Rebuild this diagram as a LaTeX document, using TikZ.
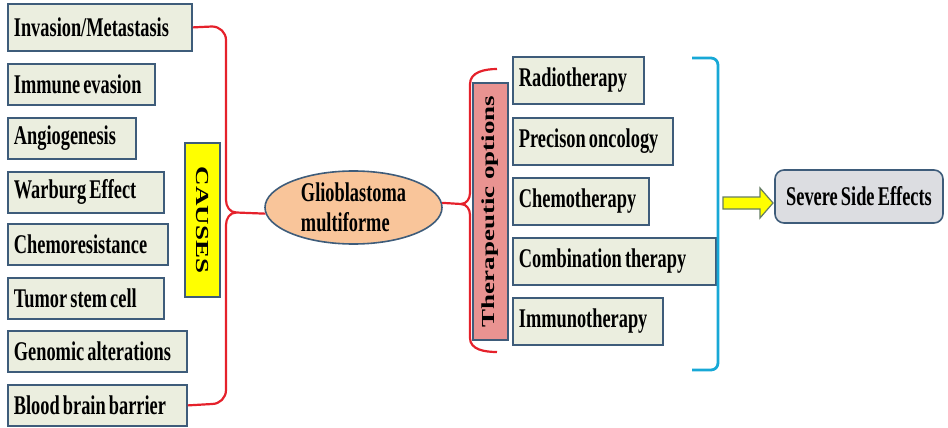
\documentclass[tikz,border=0pt]{standalone}
\usepackage{fontspec}
\usepackage{graphicx}
\setmainfont{Liberation Serif}[FakeStretch=0.68, WordSpace=0.68]
\newfontfamily\rotfont{Liberation Serif}
\usetikzlibrary{shapes.geometric}
\definecolor{boxc}{HTML}{EBEEDF}
\definecolor{bordc}{HTML}{3E5C7A}
\definecolor{redbrc}{HTML}{E5212B}
\definecolor{cyanbrc}{HTML}{17A8D6}
\definecolor{yelc}{HTML}{FFFF00}
\definecolor{pinkc}{HTML}{E99391}
\definecolor{peachc}{HTML}{F9C59A}
\definecolor{greyc}{HTML}{DCDDE1}
\newcommand{\lbox}[2]{\makebox[#1][l]{#2}}
\tikzset{
  txt/.style={font=\bfseries\fontsize{27}{30}\selectfont},
  cbox/.style={txt, draw=bordc, fill=boxc, line width=1.8pt, anchor=north west,
    inner xsep=6pt, inner ysep=0pt, minimum height=41pt},
  tbox/.style={cbox, minimum height=47pt},
  rotbox/.style={draw=bordc, line width=1.6pt, inner sep=0pt, minimum width=35pt},
  redbr/.style={draw=redbrc, line width=2.2pt, line join=round},
  cyanbr/.style={draw=cyanbrc, line width=2.8pt, line join=round},
}
\begin{document}
\begin{tikzpicture}[x=1pt,y=-1pt]
\useasboundingbox (0,0) rectangle (948,428);
% causes
\node[cbox, minimum height=47pt] (inv) at (7,3) {\lbox{172pt}{Invasion/Metastasis}};
\node[cbox] (imm) at (7,63) {\lbox{135pt}{Immune evasion}};
\node[cbox] (ang) at (7,117) {\lbox{116pt}{Angiogenesis}};
\node[cbox] (war) at (7,171) {\lbox{144pt}{Warburg Effect}};
\node[cbox] (che) at (7,223) {\lbox{148pt}{Chemoresistance}};
\node[cbox] (tum) at (7,277) {\lbox{144pt}{Tumor stem cell}};
\node[cbox] (gen) at (7,330) {\lbox{167pt}{Genomic alterations}};
\node[cbox] (bbb) at (7,384) {\lbox{167pt}{Blood brain barrier}};
\node[rotbox, fill=yelc, minimum height=154pt] (causes) at (202.5,220)
  {\rotatebox{-90}{\rotfont\bfseries\fontsize{27}{27}\selectfont\scalebox{1}[0.68]{CAUSES}}};
% centre
\node[ellipse, draw=bordc, fill=peachc, line width=1.6pt, minimum width=177pt, minimum height=73pt,
  inner sep=0pt, align=left, txt] (gbm) at (353.5,207.5) {Glioblastoma\\multiforme};
% therapies
\node[rotbox, fill=pinkc, minimum height=257pt] (ther) at (490.5,211.5)
  {\rotatebox{90}{\rotfont\bfseries\fontsize{27}{27}\selectfont\scalebox{1}[0.68]{Therapeutic options}}};
\node[tbox] (rad) at (512,56) {\lbox{119pt}{Radiotherapy}};
\node[tbox] (pre) at (512,117) {\lbox{148pt}{Precison oncology}};
\node[tbox] (chm) at (512,177) {\lbox{124pt}{Chemotherapy}};
\node[tbox] (cmb) at (512,237) {\lbox{191pt}{Combination therapy}};
\node[tbox] (imt) at (512,297) {\lbox{138pt}{Immunotherapy}};
% side effects
\node[txt, draw=bordc, fill=greyc, line width=1.6pt, rounded corners=9pt,
  minimum width=168pt, minimum height=53pt, inner sep=0pt] (side) at (859,196.5) {Severe Side Effects};
% left brace
\draw[redbr] (inv.east) -- (212,26.5) to[out=0,in=90] (226,40) -- (226,200)
  to[out=-90,in=180] (236,212.5) -- (gbm.184);
\draw[redbr] (236,212.5) to[out=180,in=90] (226,225) -- (226,390)
  to[out=-90,in=0] (212,404) -- (bbb.east);
% right brace
\coordinate (rtop) at (497,69);
\coordinate (rbot) at (497,352);
\draw[redbr] (gbm.3) -- (461,204) to[out=0,in=-90] (470,193) -- (470,84)
  to[out=90,in=180] (rtop);
\draw[redbr] (461,204) to[out=0,in=90] (470,215) -- (470,338)
  to[out=-90,in=180] (rbot);
% cyan bracket
\coordinate (ctop) at (692,58);
\coordinate (cbot) at (692,370);
\draw[cyanbr] (ctop) -- (711,58) to[out=0,in=90] (718,65) -- (718,363)
  to[out=-90,in=0] (711,370) -- (cbot);
% yellow arrow
\draw[draw=bordc!80!yelc, fill=yelc, line width=1.2pt, line join=miter]
  (723,197) -- (760,197) -- (760,188) -- (773,203) -- (760,218) -- (760,209) -- (723,209) -- cycle;
\end{tikzpicture}
\end{document}
